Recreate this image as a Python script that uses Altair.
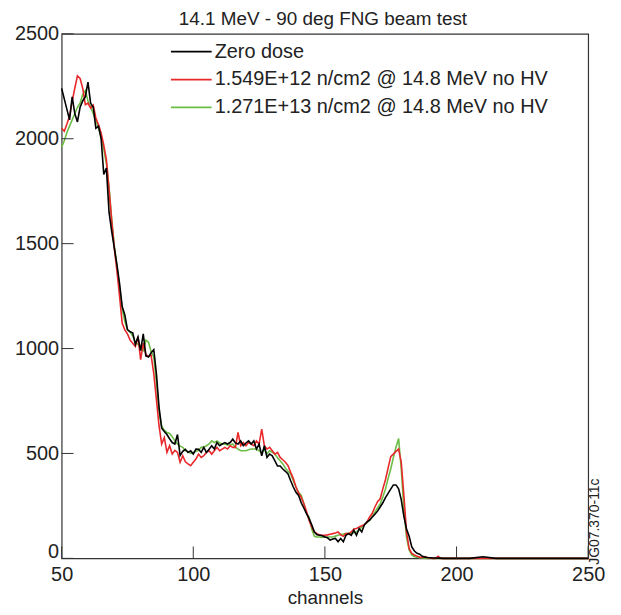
import altair as alt
import pandas as pd

channels = list(range(50, 196)) + [200, 205, 210, 215, 220, 225, 230, 235, 240, 245, 250]

zero_dose = [
    2240, 2190, 2140, 2090, 2200, 2120, 2080, 2150, 2180, 2200,   # 50-59
    2270, 2170, 2150, 2050, 2060, 2000, 1830, 1860, 1650, 1560,   # 60-69
    1480, 1400, 1310, 1200, 1160, 1090, 1080, 1075, 1020, 1055,   # 70-79
    990, 1070, 965, 960, 980, 995, 880, 720, 620, 605,            # 80-89
    590, 570, 552, 545, 590, 490, 510, 520, 505, 513,             # 90-99
    497, 521, 520, 505, 529, 505, 520, 537, 521, 552,             # 100-109
    537, 545, 552, 545, 552, 568, 550, 545, 560, 537,             # 110-119
    550, 560, 545, 560, 521, 545, 489, 537, 481, 497,             # 120-129
    489, 465, 440, 440, 426, 415, 402, 370, 340, 315,             # 130-139
    300, 265, 240, 213, 189, 160, 125, 112, 110, 108,             # 140-149
    102, 98, 87, 92, 95, 79, 95, 79, 110, 118,                    # 150-159
    110, 134, 110, 142, 126, 160, 174, 182, 197, 210,             # 160-169
    225, 245, 265, 290, 310, 330, 350, 350, 331, 280,             # 170-179
    200, 140, 105, 55, 35, 24, 20, 10, 6, 4,                      # 180-189
    3, 2, 2, 1, 1, 0,                                             # 190-195
    0, 0, 8, 0, 0, 0, 0, 0, 0, 0, 0,                              # 200-250
]

dose_1549e12 = [
    2050, 2036, 2070, 2107, 2178, 2241, 2300, 2288, 2241, 2162,   # 50-59
    2170, 2146, 2160, 2099, 2067, 2028, 1970, 1900, 1760, 1610,   # 60-69
    1480, 1370, 1250, 1120, 1089, 1070, 1040, 1025, 1010, 1057,   # 70-79
    947, 1026, 971, 963, 968, 880, 758, 631, 545, 576,            # 80-89
    505, 537, 497, 515, 505, 458, 489, 460, 450, 442,             # 90-99
    458, 473, 497, 481, 489, 505, 513, 497, 513, 529,             # 100-109
    513, 521, 529, 521, 537, 529, 529, 600, 537, 552,             # 110-119
    537, 552, 545, 537, 560, 545, 616, 537, 521, 529,             # 120-129
    513, 497, 505, 481, 470, 458, 442, 410, 380, 340,             # 130-139
    310, 292, 260, 225, 180, 150, 126, 118, 112, 110,             # 140-149
    110, 112, 115, 118, 121, 126, 112, 105, 118, 118,             # 150-159
    126, 140, 142, 150, 155, 160, 174, 197, 215, 245,             # 160-169
    270, 284, 331, 375, 430, 485, 497, 510, 521, 458,             # 170-179
    300, 126, 47, 24, 16, 10, 6, 4, 8, 3,                         # 180-189
    2, 0, 0, 10, 0, 0,                                            # 190-195
    0, 0, 0, 0, 0, 0, 0, 0, 0, 0, 0,                              # 200-250
]

dose_1271e13 = [
    1960, 1990, 2030, 2060, 2090, 2120, 2150, 2170, 2210, 2230,   # 50-59
    2180, 2150, 2120, 2090, 2050, 2010, 1950, 1880, 1770, 1620,   # 60-69
    1490, 1390, 1290, 1190, 1130, 1090, 1080, 1060, 1030, 1020,   # 70-79
    1000, 990, 1040, 1030, 985, 960, 840, 700, 630, 610,          # 80-89
    600, 595, 580, 560, 545, 535, 529, 513, 510, 500,             # 90-99
    505, 510, 515, 529, 530, 537, 545, 560, 552, 560,             # 100-109
    550, 545, 545, 540, 540, 545, 530, 521, 513, 513,             # 110-119
    513, 518, 521, 521, 521, 513, 505, 521, 497, 513,             # 120-129
    505, 497, 480, 465, 450, 430, 415, 402, 370, 340,             # 130-139
    315, 300, 260, 215, 197, 140, 105, 102, 102, 100,             # 140-149
    102, 102, 102, 102, 106, 110, 114, 116, 118, 118,             # 150-159
    118, 122, 126, 135, 150, 160, 170, 182, 200, 220,             # 160-169
    240, 260, 292, 330, 380, 426, 480, 530, 571, 426,             # 170-179
    237, 100, 40, 16, 8, 5, 3, 2, 1, 0,                           # 180-189
    0, 0, 0, 0, 0, 0,                                             # 190-195
    0, 0, 0, 0, 0, 0, 0, 0, 0, 0, 0,                              # 200-250
]

series_names = [
    "Zero dose",
    "1.549E+12 n/cm2 @ 14.8 MeV no HV",
    "1.271E+13 n/cm2 @ 14.8 MeV no HV",
]
series_values = [zero_dose, dose_1549e12, dose_1271e13]
series_colors = ["#000000", "#e8282b", "#6cbd45"]

x_ticks = [50, 100, 150, 200, 250]
y_ticks = [0, 500, 1000, 1500, 2000, 2500]
chart_title = "14.1 MeV - 90 deg FNG beam test"
figure_code = "JG07.370-11c"

FONT = "Liberation Sans"
TXT = "#222222"
W, H = 530, 528

x_scale = alt.Scale(domain=[50, 250], nice=False, zero=False)
y_scale = alt.Scale(domain=[0, 2500], nice=False)

x_axis = alt.Axis(values=x_ticks, ticks=False, tickSize=0, domain=False, grid=False,
                  format="d", labelFlush=False,
                  labelFontSize=20, labelFont=FONT, labelColor=TXT, labelPadding=6,
                  title="channels", titleFontSize=19, titleFont=FONT, titleColor=TXT,
                  titleFontWeight="normal", titlePadding=4)
y_axis = alt.Axis(values=y_ticks, ticks=False, tickSize=0, domain=False, grid=False,
                  format="d", labelFlush=False,
                  labelOffset={"condition": {"test": "datum.value === 0", "value": -7}, "value": 0},
                  labelFontSize=20, labelFont=FONT, labelColor=TXT, labelPadding=3,
                  title=None)

layers = []
# draw order: green, red, black on top
for idx in [2, 1, 0]:
    df = pd.DataFrame({"channel": channels, "counts": series_values[idx]})
    line = alt.Chart(df).mark_line(strokeWidth=1.6, color=series_colors[idx]).encode(
        x=alt.X("channel:Q", scale=x_scale, axis=x_axis),
        y=alt.Y("counts:Q", scale=y_scale, axis=y_axis),
    )
    layers.append(line)

# inward ticks
xt = alt.Chart(pd.DataFrame({"channel": x_ticks})).mark_rule(color="#333333", strokeWidth=1).encode(
    x=alt.X("channel:Q", scale=x_scale, axis=x_axis),
    y=alt.value(H), y2=alt.value(H - 12),
)
yt = alt.Chart(pd.DataFrame({"counts": y_ticks})).mark_rule(color="#333333", strokeWidth=1).encode(
    y=alt.Y("counts:Q", scale=y_scale, axis=y_axis),
    x=alt.value(0), x2=alt.value(12),
)
layers += [xt, yt]

# legend inside plot
for i, name in enumerate(series_names):
    ly = 18 + 28 * i
    ldf = pd.DataFrame({"label": [name]})
    layers.append(
        alt.Chart(ldf).mark_rule(color=series_colors[i], strokeWidth=1.8).encode(
            x=alt.value(110), x2=alt.value(151), y=alt.value(ly)
        )
    )
    layers.append(
        alt.Chart(ldf).mark_text(align="left", baseline="middle", fontSize=20, font=FONT,
                                 color=TXT).encode(
            x=alt.value(154), y=alt.value(ly), text="label:N"
        )
    )

# chart title as text above the plot
layers.append(
    alt.Chart(pd.DataFrame({"t": [chart_title]})).mark_text(
        align="center", baseline="middle", fontSize=19, font=FONT, color=TXT
    ).encode(x=alt.value(W / 2 - 2), y=alt.value(-15), text="t:N")
)

# figure code on the right
layers.append(
    alt.Chart(pd.DataFrame({"code": [figure_code]})).mark_text(
        angle=270, align="center", baseline="middle", fontSize=14, font=FONT, color=TXT
    ).encode(x=alt.value(537), y=alt.value(491), text="code:N")
)

chart = alt.layer(*layers).properties(
    width=W, height=H,
    autosize=alt.AutoSizeParams(type="none"),
    padding={"left": 54, "top": 24, "right": 25, "bottom": 54},
).configure_view(stroke="#333333", strokeWidth=1.2)

chart.save("out.html", embed_options={"renderer": "svg", "actions": False})
